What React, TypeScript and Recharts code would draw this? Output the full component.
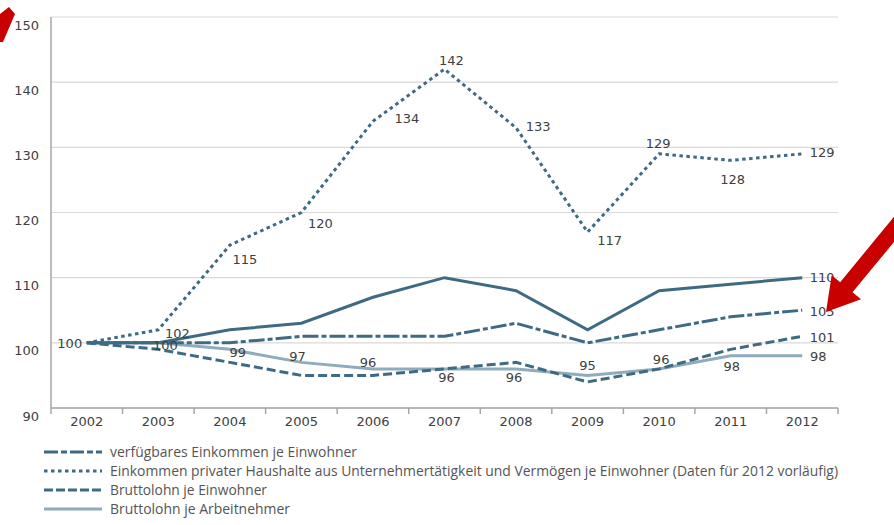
import React from 'react';
import { LineChart, Line, XAxis, YAxis, CartesianGrid } from 'recharts';

// ---------- data ----------
const years = ['2002', '2003', '2004', '2005', '2006', '2007', '2008', '2009', '2010', '2011', '2012'];
const topSolid = [100, 100, 102, 103, 107, 110, 108, 102, 108, 109, 110];
const verfuegbar = [100, 100, 100, 101, 101, 101, 103, 100, 102, 104, 105];
const unternehmer = [100, 102, 115, 120, 134, 142, 133, 117, 129, 128, 129];
const lohnEinwohner = [100, 99, 97, 95, 95, 96, 97, 94, 96, 99, 101];
const lohnArbeitnehmer = [100, 100, 99, 97, 96, 96, 96, 95, 96, 98, 98];
const yTicks = [90, 100, 110, 120, 130, 140, 150];
const legendLabels = [
  'verfügbares Einkommen je Einwohner',
  'Einkommen privater Haushalte aus Unternehmertätigkeit und Vermögen je Einwohner (Daten für 2012 vorläufig)',
  'Bruttolohn je Einwohner',
  'Bruttolohn je Arbeitnehmer',
];

// ---------- label placement (offsets from the point) ----------
type Off = [number, number] | null;
const topSolidLabels: Off[] = [[-17, 1], null, null, null, null, null, null, null, null, null, [20, 0]];
const verfuegbarLabels: Off[] = [null, null, null, null, null, null, null, null, null, null, [20, 1]];
const unternehmerLabels: Off[] = [null, [19, 4], [15, 14], [19, 11], [34, -3], [7, -9], [22, -1], [22, 8], [-1, -10], [2, 19], [20, -1]];
const lohnEinwohnerLabels: Off[] = [null, null, null, null, null, null, null, null, null, null, [20, 1]];
const lohnArbeitnehmerLabels: Off[] = [null, [7, 3], [8, 3], [-4, -6], [-5, -6], [2, 9], [-2, 9], [0, -10], [2, -9], [1, 11], [16, 1]];

const data = years.map((year, i) => ({
  year,
  topSolid: topSolid[i],
  verfuegbar: verfuegbar[i],
  unternehmer: unternehmer[i],
  lohnEinwohner: lohnEinwohner[i],
  lohnArbeitnehmer: lohnArbeitnehmer[i],
}));

// ---------- layout / style ----------
const W = 894;
const H = 525;
const PLOT_LEFT = 51;
const PLOT_RIGHT = 838;
const STEP = (PLOT_RIGHT - PLOT_LEFT) / years.length;
const DARK = '#3f6a84';
const LIGHT = '#8fabbc';
const AXIS = '#a6a6a6';
const TEXT = '#404040';
const FONT = '"DejaVu Sans", sans-serif';

const makeLabelDot = (name: string, values: number[], offsets: Off[]) => (props: any) => {
  const { cx, cy, index } = props;
  const off = offsets[index];
  if (!off || cx == null || cy == null) return <g key={`${name}-${index}`} />;
  return (
    <text
      key={`${name}-${index}`}
      x={cx + off[0]}
      y={cy + off[1]}
      textAnchor="middle"
      dominantBaseline="central"
      fontSize={13}
      fontFamily={FONT}
      fill={TEXT}
    >
      {values[index]}
    </text>
  );
};

const XTick = (props: any) => {
  const { x, y, payload } = props;
  const last = payload.value === years[years.length - 1];
  return (
    <g>
      <line x1={x - STEP / 2} x2={x - STEP / 2} y1={y} y2={y + 6} stroke={AXIS} strokeWidth={1.5} />
      {last && <line x1={x + STEP / 2} x2={x + STEP / 2} y1={y} y2={y + 6} stroke={AXIS} strokeWidth={1.5} />}
      <text x={x} y={y + 18} textAnchor="middle" fontSize={13} fontFamily={FONT} fill={TEXT}>
        {payload.value}
      </text>
    </g>
  );
};

const YTick = (props: any) => {
  const { x, y, payload } = props;
  return (
    <text x={x} y={y + 12.5} textAnchor="end" fontSize={13} fontFamily={FONT} fill={TEXT}>
      {payload.value}
    </text>
  );
};

// arrow polygon from tip toward tail
const arrowPoints = (tip: [number, number], tail: [number, number], headLen: number, headHalf: number, shaftHalf: number) => {
  const dx = tail[0] - tip[0];
  const dy = tail[1] - tip[1];
  const len = Math.hypot(dx, dy);
  const ux = dx / len;
  const uy = dy / len;
  const px = -uy;
  const py = ux;
  const bx = tip[0] + ux * headLen;
  const by = tip[1] + uy * headLen;
  const pts = [
    [tip[0], tip[1]],
    [bx + px * headHalf, by + py * headHalf],
    [bx + px * shaftHalf, by + py * shaftHalf],
    [tail[0] + px * shaftHalf, tail[1] + py * shaftHalf],
    [tail[0] - px * shaftHalf, tail[1] - py * shaftHalf],
    [bx - px * shaftHalf, by - py * shaftHalf],
    [bx - px * headHalf, by - py * headHalf],
  ];
  return pts.map((p) => p.join(',')).join(' ');
};

const legendRows = [
  { label: legendLabels[0], color: DARK, dash: '14 3 6 3', width: 247 },
  { label: legendLabels[1], color: DARK, dash: '3.5 3.5', width: 728 },
  { label: legendLabels[2], color: DARK, dash: '9 3', width: 157 },
  { label: legendLabels[3], color: LIGHT, dash: undefined, width: 180 },
];

export default function App() {
  return (
    <div style={{ position: 'absolute', left: 0, top: 0, width: W, height: H, background: '#fff', overflow: 'hidden' }}>
      <LineChart width={W} height={H} data={data} margin={{ top: 17, right: W - PLOT_RIGHT, bottom: 87, left: 0 }}>
        <CartesianGrid vertical={false} stroke="#d9d9d9" strokeWidth={1.2} />
        <XAxis
          dataKey="year"
          type="category"
          interval={0}
          height={30}
          padding={{ left: STEP / 2, right: STEP / 2 }}
          tickSize={0}
          tickMargin={0}
          tickLine={false}
          axisLine={{ stroke: AXIS, strokeWidth: 1.5 }}
          tick={<XTick />}
        />
        <YAxis
          type="number"
          domain={[90, 150]}
          ticks={yTicks}
          width={PLOT_LEFT}
          tickSize={0}
          tickMargin={12}
          tickLine={false}
          axisLine={{ stroke: AXIS, strokeWidth: 1.5 }}
          tick={<YTick />}
          interval={0}
        />
        <Line
          dataKey="lohnArbeitnehmer"
          stroke={LIGHT}
          strokeWidth={3}
          dot={makeLabelDot('an', lohnArbeitnehmer, lohnArbeitnehmerLabels)}
          activeDot={false}
          isAnimationActive={false}
        />
        <Line
          dataKey="lohnEinwohner"
          stroke={DARK}
          strokeWidth={3}
          strokeDasharray="9 4"
          dot={makeLabelDot('le', lohnEinwohner, lohnEinwohnerLabels)}
          activeDot={false}
          isAnimationActive={false}
        />
        <Line
          dataKey="verfuegbar"
          stroke={DARK}
          strokeWidth={3}
          strokeDasharray="16 3 5 3"
          dot={makeLabelDot('ve', verfuegbar, verfuegbarLabels)}
          activeDot={false}
          isAnimationActive={false}
        />
        <Line
          dataKey="topSolid"
          stroke={DARK}
          strokeWidth={3}
          dot={makeLabelDot('ts', topSolid, topSolidLabels)}
          activeDot={false}
          isAnimationActive={false}
        />
        <Line
          dataKey="unternehmer"
          stroke={DARK}
          strokeWidth={3}
          strokeDasharray="3.5 3.5"
          dot={makeLabelDot('un', unternehmer, unternehmerLabels)}
          activeDot={false}
          isAnimationActive={false}
        />
      </LineChart>
      <svg width={W} height={H} style={{ position: 'absolute', left: 0, top: 0, pointerEvents: 'none' }}>
        {legendRows.map((r, i) => {
          const y = 452 + i * 19;
          return (
            <g key={i}>
              <line x1={44} x2={102} y1={y} y2={y} stroke={r.color} strokeWidth={3} strokeDasharray={r.dash} />
              <text
                x={110}
                y={y + 5}
                fontSize={14.5}
                fontFamily='"Liberation Sans Narrow", "Open Sans", sans-serif'
                fill="#555"
                textLength={r.width}
                lengthAdjust="spacingAndGlyphs"
              >
                {r.label}
              </text>
            </g>
          );
        })}
        <polygon points={arrowPoints([826, 312], [905, 216], 32, 19, 8)} fill="#c80000" />
        <polygon points="0,14 9,7 15,14 3,42 0,42" fill="#c80000" />
      </svg>
    </div>
  );
}
